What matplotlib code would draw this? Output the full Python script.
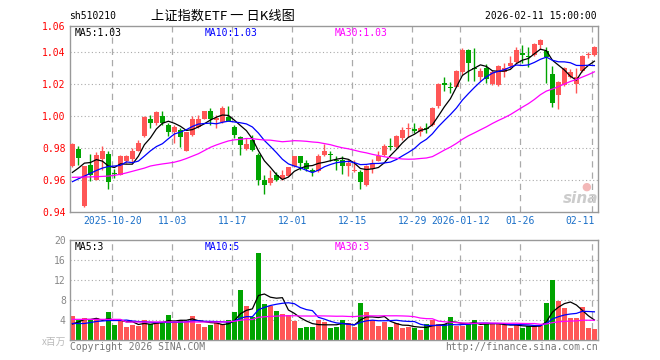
import numpy as np
import pandas as pd
import matplotlib
matplotlib.use('Agg')
import matplotlib.pyplot as plt
from matplotlib import transforms

# ---------------- data ----------------
opens = [0.9685, 0.9796, 0.9435, 0.9696, 0.9602, 0.9733, 0.9765, 0.9645, 0.9633, 0.9717,
         0.9733, 0.9783, 0.9877, 0.9983, 0.9960, 1.0002, 0.9946, 0.9900, 0.9915, 0.9783,
         0.9883, 0.9931, 0.9983, 1.0033, 0.9975, 0.9963, 0.9998, 0.9935, 0.9867, 0.9794,
         0.9852, 0.9758, 0.9602, 0.9581, 0.9633, 0.9606, 0.9627, 0.9685, 0.9748, 0.9706,
         0.9663, 0.9654, 0.9758, 0.9763, 0.9725, 0.9727, 0.9685, 0.9654, 0.9650, 0.9567,
         0.9669, 0.9721, 0.9758, 0.9815, 0.9806, 0.9863, 0.9919, 0.9919, 0.9904, 0.9927,
         0.9946, 1.0065, 1.0206, 1.0185, 1.0185, 1.0279, 1.0415, 1.0304, 1.0248, 1.0304,
         1.0202, 1.0196, 1.0279, 1.0315, 1.0342, 1.0394, 1.0377, 1.0383, 1.0446, 1.0410,
         1.0265, 1.0133, 1.0196, 1.0248, 1.0200, 1.0285, 1.0381, 1.0383]
highs = [0.9830, 0.9815, 0.9688, 0.9765, 0.9775, 0.9815, 0.9779, 0.9668, 0.9758, 0.9760,
         0.9800, 0.9848, 1.0002, 1.0008, 1.0035, 1.0035, 0.9956, 0.9942, 0.9929, 0.9900,
         1.0004, 1.0008, 1.0035, 1.0050, 1.0008, 1.0065, 1.0065, 0.9946, 0.9877, 0.9863,
         0.9883, 0.9769, 0.9633, 0.9665, 0.9648, 0.9665, 0.9683, 0.9752, 0.9750, 0.9727,
         0.9675, 0.9763, 0.9825, 0.9779, 0.9748, 0.9748, 0.9731, 0.9727, 0.9665, 0.9696,
         0.9731, 0.9779, 0.9825, 0.9863, 0.9881, 0.9931, 0.9956, 0.9960, 0.9940, 0.9956,
         1.0060, 1.0206, 1.0244, 1.0213, 1.0290, 1.0425, 1.0419, 1.0425, 1.0300, 1.0327,
         1.0290, 1.0321, 1.0331, 1.0377, 1.0431, 1.0446, 1.0435, 1.0456, 1.0481, 1.0435,
         1.0315, 1.0221, 1.0306, 1.0294, 1.0300, 1.0381, 1.0404, 1.0440]
lows = [0.9680, 0.9692, 0.9430, 0.9592, 0.9598, 0.9665, 0.9546, 0.9614, 0.9630, 0.9706,
        0.9706, 0.9779, 0.9867, 0.9925, 0.9942, 0.9946, 0.9873, 0.9831, 0.9810, 0.9779,
        0.9879, 0.9925, 0.9980, 0.9946, 0.9925, 0.9958, 0.9967, 0.9863, 0.9758, 0.9790,
        0.9779, 0.9570, 0.9513, 0.9567, 0.9592, 0.9600, 0.9623, 0.9679, 0.9665, 0.9654,
        0.9623, 0.9650, 0.9752, 0.9717, 0.9665, 0.9640, 0.9623, 0.9648, 0.9544, 0.9560,
        0.9644, 0.9717, 0.9752, 0.9790, 0.9802, 0.9852, 0.9869, 0.9894, 0.9873, 0.9894,
        0.9940, 1.0050, 1.0160, 1.0148, 1.0181, 1.0258, 1.0223, 1.0223, 1.0223, 1.0206,
        1.0196, 1.0190, 1.0248, 1.0300, 1.0335, 1.0331, 1.0306, 1.0377, 1.0419, 1.0210,
        1.0060, 1.0046, 1.0190, 1.0240, 1.0144, 1.0279, 1.0367, 1.0377]
closes = [0.9827, 0.9738, 0.9685, 0.9633, 0.9758, 0.9779, 0.9585, 0.9638, 0.9748, 0.9748,
          0.9779, 0.9835, 0.9998, 0.9960, 1.0029, 0.9956, 0.9900, 0.9933, 0.9867, 0.9898,
          0.9983, 0.9983, 1.0033, 0.9983, 0.9988, 1.0050, 0.9971, 0.9883, 0.9817, 0.9827,
          0.9790, 0.9602, 0.9567, 0.9613, 0.9602, 0.9633, 0.9679, 0.9748, 0.9706, 0.9671,
          0.9650, 0.9748, 0.9783, 0.9754, 0.9717, 0.9685, 0.9710, 0.9665, 0.9585, 0.9685,
          0.9706, 0.9752, 0.9815, 0.9806, 0.9877, 0.9915, 0.9927, 0.9910, 0.9927, 0.9919,
          1.0050, 1.0202, 1.0198, 1.0179, 1.0283, 1.0415, 1.0331, 1.0296, 1.0283, 1.0233,
          1.0279, 1.0315, 1.0304, 1.0335, 1.0415, 1.0385, 1.0369, 1.0452, 1.0477, 1.0369,
          1.0085, 1.0217, 1.0300, 1.0279, 1.0248, 1.0377, 1.0388, 1.0431]
volumes = [4.87, 4.0, 4.33, 4.13, 4.33, 2.87, 5.67, 3.0, 4.0, 2.67,
           3.0, 2.87, 4.0, 3.2, 3.67, 3.53, 5.0, 3.53, 4.0, 3.67,
           4.87, 3.2, 2.67, 3.0, 3.33, 3.2, 4.0, 5.67, 10.0, 6.8,
           4.67, 17.33, 7.2, 6.8, 5.8, 5.2, 5.0, 3.8, 2.4, 2.6,
           2.6, 4.0, 3.6, 2.4, 2.6, 4.0, 3.4, 2.67, 7.4, 5.6,
           4.0, 2.8, 3.67, 2.6, 3.4, 2.4, 2.6, 2.4, 2.0, 3.2,
           4.0, 3.2, 3.2, 4.6, 2.8, 2.8, 3.2, 4.0, 2.8, 3.2,
           3.2, 3.2, 3.0, 2.4, 3.2, 2.4, 2.8, 2.8, 2.8, 7.4,
           12.0, 7.8, 6.4, 4.4, 4.4, 6.6, 2.4, 2.2]

# moving-average values before enough history is on the chart
price_ma5_head = [0.9648, 0.9675, 0.9706, 0.9710]
price_ma10_head = [0.9590, 0.9608, 0.9625, 0.9642, 0.9660, 0.9675, 0.9685, 0.9688, 0.9692]
price_ma30_head = [0.9617, 0.9618, 0.9619, 0.9620, 0.9621, 0.9623, 0.9625, 0.9630, 0.9636,
                   0.9645, 0.9655, 0.9665, 0.9675, 0.9688, 0.9695, 0.9701, 0.9706, 0.9712,
                   0.9722, 0.9735, 0.9750, 0.9765, 0.9785, 0.9805, 0.9820, 0.9833, 0.9845,
                   0.9852, 0.9855]
vol_ma5_head = [3.2, 3.6, 4.1, 4.1]
vol_ma10_head = [3.3, 3.3, 3.3, 3.5, 3.7, 3.8, 3.9, 3.9, 3.9]
vol_ma30_head = [4.13] * 9 + [3.6] * 17 + [3.65, 3.75, 3.95]

tick_idx = [7, 17, 27, 37, 47, 57, 65, 75, 87]
tick_labels = ['2025-10-20', '11-03', '11-17', '12-01', '12-15', '12-29',
               '2026-01-12', '01-26', '02-11']
price_ticks = [0.94, 0.96, 0.98, 1.00, 1.02, 1.04]
price_tick_labels = ['0.94', '0.96', '0.98', '1.00', '1.02', '1.04']
vol_ticks = [4, 8, 12, 16, 20]
vol_tick_labels = ['4', '8', '12', '16', '20']

title_code = 'sh510210'
title_name = '上证指数ETF 一 日K线图'
title_time = '2026-02-11 15:00:00'
price_ma_text = ['MA5:1.03', 'MA10:1.03', 'MA30:1.03']
vol_ma_text = ['MA5:3', 'MA10:5', 'MA30:3']


def moving(values, n, head):
    s = pd.Series(values, dtype=float).rolling(n).mean().to_numpy()
    s[:len(head)] = head
    return s


# ---------------- style ----------------
W, H = 660, 360
RED = '#ff5656'
GREEN = '#00a400'
GRID = '#aaaaaa'
SPINE = '#999999'
MONO = 'DejaVu Sans Mono'
CJK = ['Noto Sans CJK SC', 'DejaVu Sans']
MA_COLORS = ['black', '#0000ff', '#ff00ff']

fig = plt.figure(figsize=(W / 100, H / 100), dpi=100)
fig.patch.set_facecolor('white')


def ax_rect(left, top, right, bottom):
    return [left / W, 1 - bottom / H, (right - left) / W, (bottom - top) / H]


ax = fig.add_axes(ax_rect(70, 26, 598, 212))
axv = fig.add_axes(ax_rect(70, 240, 598, 340))

n = len(closes)
x = np.arange(n)
o = np.array(opens); c = np.array(closes); h = np.array(highs); l = np.array(lows)
up = c >= o
cols = np.where(up, RED, GREEN)

XMIN, XMAX = -0.4, n - 0.4
for a in (ax, axv):
    a.set_xlim(XMIN, XMAX)
    a.set_xticks([])
    for s in a.spines.values():
        s.set_color(SPINE)
        s.set_linewidth(1.0)
    for t in tick_idx:
        a.axvline(t - 0.33, color=GRID, lw=0.9, ls=(0, (5, 4)), zorder=0)

# price panel
YMIN, YMAX = 0.94, 1.0565
ax.set_ylim(YMIN, YMAX)
for p in price_ticks[1:]:
    ax.axhline(p, color=GRID, lw=0.8, ls=(0, (1, 2.2)), zorder=0)
ax.vlines(x, l, h, colors=cols, lw=1.0, zorder=2)
body_bottom = np.minimum(o, c)
body_h = np.maximum(np.abs(c - o), 0.0006)
ax.bar(x, body_h, bottom=body_bottom, width=0.78, color=cols, linewidth=0, zorder=3)

ma_p = [moving(closes, 5, price_ma5_head), moving(closes, 10, price_ma10_head),
        moving(closes, 30, price_ma30_head)]
for m, col in zip(ma_p, MA_COLORS):
    ax.plot(x, m, color=col, lw=0.9, zorder=4)

ax.set_yticks(price_ticks + [YMAX])
ax.set_yticklabels(price_tick_labels + ['1.06'], color='red', fontsize=7, family=MONO)
ax.tick_params(axis='y', length=0, pad=3)

# volume panel
axv.set_ylim(0, 20)
for v in vol_ticks[:-1]:
    axv.axhline(v, color=GRID, lw=0.8, ls=(0, (1, 2.2)), zorder=0)
axv.bar(x, volumes, width=0.78, color=cols, linewidth=0, zorder=2)
ma_v = [moving(volumes, 5, vol_ma5_head), moving(volumes, 10, vol_ma10_head),
        moving(volumes, 30, vol_ma30_head)]
for m, col in zip(ma_v, MA_COLORS):
    axv.plot(x, m, color=col, lw=0.9, zorder=4)
axv.set_yticks(vol_ticks)
axv.set_yticklabels(vol_tick_labels, color='#888888', fontsize=7, family=MONO)
axv.tick_params(axis='y', length=0, pad=3)

# date labels
tr = transforms.blended_transform_factory(ax.transData, fig.transFigure)
for t, lab in zip(tick_idx, tick_labels):
    if t == tick_idx[-1]:
        ax.text(t + 0.1, 1 - 221 / H, lab, transform=tr, ha='right', va='center',
                fontsize=7, family=MONO, color='#1a6fc8', clip_on=False)
    else:
        ax.text(t - 0.33, 1 - 221 / H, lab, transform=tr, ha='center', va='center',
                fontsize=7, family=MONO, color='#1a6fc8', clip_on=False)


def ftext(px, py, s, **kw):
    fig.text(px / W, 1 - py / H, s, **kw)


ftext(69, 16, title_code, ha='left', va='center', fontsize=7, family=MONO)
ftext(223, 16, title_name, ha='center', va='center', fontsize=9.5, family=CJK)
ftext(597, 16, title_time, ha='right', va='center', fontsize=7, family=MONO)

for px, s, col in zip([75, 205, 335], price_ma_text, MA_COLORS):
    ftext(px, 33, s, ha='left', va='center', fontsize=7, family=MONO, color=col)
for px, s, col in zip([75, 205, 335], vol_ma_text, MA_COLORS):
    ftext(px, 247, s, ha='left', va='center', fontsize=7, family=MONO, color=col)

ftext(70, 347, 'Copyright 2026 SINA.COM', ha='left', va='center', fontsize=7,
      family=MONO, color='#777777')
ftext(598, 347, 'http://finance.sina.com.cn', ha='right', va='center', fontsize=7,
      family=MONO, color='#777777')
ftext(66, 342, 'x百万', ha='right', va='center', fontsize=7, family=CJK, color='#bbbbbb')

# sina watermark
ftext(581, 198, 'sina', ha='center', va='center', fontsize=11, style='italic',
      weight='bold', color='#cccccc', family='DejaVu Sans')
ftext(586, 187, '●', ha='center', va='center', fontsize=8, color='#f3b8b8', family='DejaVu Sans')

fig.savefig('out.png', dpi=100, facecolor='white')
